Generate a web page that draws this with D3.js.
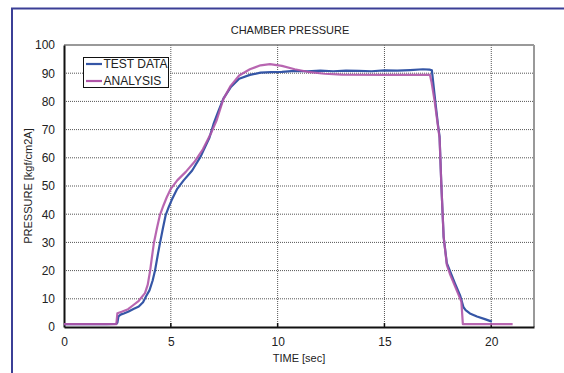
<!DOCTYPE html>
<html>
<head>
<meta charset="utf-8">
<script src="https://cdn.jsdelivr.net/npm/d3@7"></script>
<style>
  body { margin: 0; background: #fff; }
  svg { display: block; }
  text { font-family: "Liberation Sans", Arial, sans-serif; fill: #222; }
</style>
</head>
<body>
<svg id="chart" width="564" height="373"></svg>
<script>
// data
let testTime = [0, 1, 2, 2.45, 2.5, 2.55, 2.65, 2.8, 3.0, 3.25, 3.5, 3.7, 3.85, 4.0, 4.15, 4.26, 4.4, 4.5, 4.63, 4.76, 4.9, 5.04, 5.3, 5.6, 6.0, 6.4, 6.8, 7.0, 7.2, 7.46, 7.8, 8.2, 8.7, 9.2, 9.7, 10.2, 10.8, 11.4, 12, 12.6, 13.2, 13.8, 14.4, 15, 15.6, 16.2, 16.8, 17.1, 17.22, 17.38, 17.5, 17.58, 17.66, 17.77, 17.92, 18.08, 18.3, 18.55, 18.7, 18.8, 19.0, 19.33, 19.7, 20.03];
let testValue = [1.0, 1.0, 1.0, 1.1, 1.6, 3.8, 4.4, 4.8, 5.4, 6.4, 7.3, 8.8, 11, 13, 16.5, 20, 26, 30, 35, 39.7, 42.5, 45, 49, 52, 55.5, 60.5, 67, 72, 76, 81, 85, 88, 89.4, 90.2, 90.4, 90.5, 90.8, 90.7, 90.9, 90.7, 90.9, 90.8, 90.7, 91.0, 90.9, 91.1, 91.4, 91.3, 91.0, 80, 72, 67.5, 51, 32, 22.6, 19.6, 15.5, 11, 7, 6, 4.8, 3.7, 2.8, 1.9];

let anaTime = [0, 2.45, 2.5, 2.7, 3.0, 3.25, 3.5, 3.79, 3.92, 4.03, 4.12, 4.21, 4.35, 4.49, 4.65, 4.81, 5.0, 5.3, 5.7, 6.1, 6.5, 6.9, 7.15, 7.46, 7.8, 8.2, 8.7, 9.2, 9.64, 10.2, 10.8, 11.4, 12.2, 13, 15, 17.13, 17.2, 17.35, 17.58, 17.66, 17.77, 17.92, 18.08, 18.3, 18.6, 18.67, 21.0];
let anaValue = [1.0, 1.0, 4.9, 5.4, 6.3, 7.8, 9.3, 12, 15, 19.9, 25, 29.9, 35, 39.7, 43, 46, 49, 52, 55, 58.5, 63, 69, 73.4, 80.8, 85.5, 89.2, 91.4, 92.8, 93.2, 92.6, 91.4, 90.5, 89.8, 89.5, 89.4, 89.4, 87, 80, 67, 51, 32, 22, 18.5, 14.5, 9, 1.0, 1.0];

let xTicks = [0, 5, 10, 15, 20];
let yTicks = [0, 10, 20, 30, 40, 50, 60, 70, 80, 90, 100];
let seriesNames = ['TEST DATA', 'ANALYSIS'];
let seriesColors = ['#3556a6', '#b055a8'];

let svg = d3.select('#chart');

// outer blue frame
svg.append('rect')
  .attr('x', 12).attr('y', 8.5)
  .attr('width', 600).attr('height', 400)
  .attr('fill', '#fff')
  .attr('stroke', '#3b3f96')
  .attr('stroke-width', 2);

let plotL = 64, plotR = 534, plotT = 45, plotB = 327;

let x = d3.scaleLinear().domain([0, 22]).range([plotL, plotR]);
let y = d3.scaleLinear().domain([0, 100]).range([plotB, plotT]);

// grid
let grid = svg.append('g');
grid.selectAll('.vg')
  .data(xTicks.filter(d => d > 0))
  .enter().append('line')
  .attr('x1', d => x(d)).attr('x2', d => x(d))
  .attr('y1', plotT).attr('y2', plotB)
  .attr('stroke', '#555').attr('stroke-width', 1)
  .attr('stroke-dasharray', '1,1');
grid.selectAll('.hg')
  .data(yTicks.filter(d => d > 0 && d < 100))
  .enter().append('line')
  .attr('x1', plotL).attr('x2', plotR)
  .attr('y1', d => y(d)).attr('y2', d => y(d))
  .attr('stroke', '#555').attr('stroke-width', 1)
  .attr('stroke-dasharray', '1,1');

// top and right border (gray)
svg.append('line')
  .attr('x1', plotL).attr('x2', plotR)
  .attr('y1', plotT).attr('y2', plotT)
  .attr('stroke', '#777').attr('stroke-width', 1.5);
svg.append('line')
  .attr('x1', plotR).attr('x2', plotR)
  .attr('y1', plotT).attr('y2', plotB)
  .attr('stroke', '#999').attr('stroke-width', 2);

// axes
let xAxis = d3.axisBottom(x).tickValues(xTicks).tickSize(0).tickPadding(10);
let yAxis = d3.axisLeft(y).tickValues(yTicks).tickSize(0).tickPadding(9);

let gx = svg.append('g').attr('transform', 'translate(0,' + plotB + ')').call(xAxis);
let gy = svg.append('g').attr('transform', 'translate(' + plotL + ',0)').call(yAxis);
[gx, gy].forEach(function(g) {
  g.select('.domain').attr('stroke', '#111').attr('stroke-width', 2);
  g.selectAll('text').style('font-size', '12px').style('fill', '#222')
    .style('font-family', '"Liberation Sans", Arial, sans-serif');
});
// small x ticks pointing up
svg.selectAll('.xt')
  .data(xTicks.filter(d => d > 0))
  .enter().append('line')
  .attr('x1', d => x(d)).attr('x2', d => x(d))
  .attr('y1', plotB).attr('y2', plotB - 4)
  .attr('stroke', '#111').attr('stroke-width', 1.5);

// lines
let lineGen = d3.line().x(d => x(d[0])).y(d => y(d[1]));
let testData = d3.zip(testTime, testValue);
let anaData = d3.zip(anaTime, anaValue);

svg.append('path')
  .datum(testData)
  .attr('d', lineGen)
  .attr('fill', 'none')
  .attr('stroke', seriesColors[0])
  .attr('stroke-width', 2.2)
  .attr('stroke-linejoin', 'round');

svg.append('path')
  .datum(anaData)
  .attr('d', lineGen)
  .attr('fill', 'none')
  .attr('stroke', seriesColors[1])
  .attr('stroke-width', 2.2)
  .attr('stroke-opacity', 0.9)
  .attr('stroke-linejoin', 'round');

// titles
svg.append('text')
  .attr('x', 290).attr('y', 34)
  .attr('text-anchor', 'middle')
  .style('font-size', '11px')
  .text('CHAMBER PRESSURE');

svg.append('text')
  .attr('x', (plotL + plotR) / 2).attr('y', 362)
  .attr('text-anchor', 'middle')
  .style('font-size', '11px')
  .text('TIME [sec]');

svg.append('text')
  .attr('transform', 'translate(32,' + (plotT + plotB) / 2 + ') rotate(-90)')
  .attr('text-anchor', 'middle')
  .style('font-size', '11px')
  .text('PRESSURE [kgf/cm2A]');

// legend
let legend = svg.append('g');
legend.append('rect')
  .attr('x', 83.5).attr('y', 57.5)
  .attr('width', 85).attr('height', 30)
  .attr('fill', '#fff')
  .attr('stroke', '#111').attr('stroke-width', 1);
legend.selectAll('.li')
  .data(seriesNames)
  .enter().append('line')
  .attr('x1', 86).attr('x2', 102)
  .attr('y1', (d, i) => 64 + i * 17).attr('y2', (d, i) => 64 + i * 17)
  .attr('stroke', (d, i) => seriesColors[i])
  .attr('stroke-width', 2.2);
legend.selectAll('.lt')
  .data(seriesNames)
  .enter().append('text')
  .attr('x', 103.5)
  .attr('y', (d, i) => 68 + i * 17)
  .style('font-size', '12px')
  .text(d => d);
</script>
</body>
</html>
